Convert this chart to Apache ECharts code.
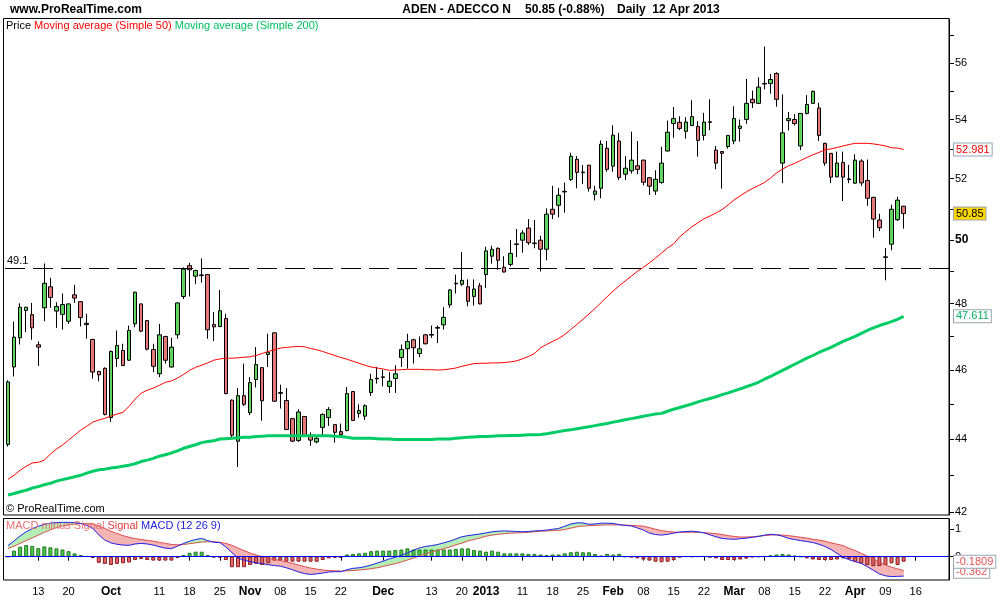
<!DOCTYPE html>
<html><head><meta charset="utf-8">
<script src="https://cdn.jsdelivr.net/npm/echarts@6.0.0/dist/echarts.min.js"></script>
<style>html,body{margin:0;padding:0;background:#fff}#c{width:1000px;height:600px}</style>
</head><body><div id="c"></div>
<script>
const FONT = 'Liberation Sans, Arial, sans-serif';

// trading days (month -> day numbers), last 7 are empty future days
const tradingDays = [
  ['2012-09', [6,7,10,11,12,13,14,17,18,19,20,21,24,25,26,27,28]],
  ['2012-10', [1,2,3,4,5,8,9,10,11,12,15,16,17,18,19,22,23,24,25,26,29,30,31]],
  ['2012-11', [1,2,5,6,7,8,9,12,13,14,15,16,19,20,21,22,23,26,27,28,29,30]],
  ['2012-12', [3,4,5,6,7,10,11,12,13,14,17,18,19,20,21,27,28]],
  ['2013-01', [3,4,7,8,9,10,11,14,15,16,17,18,21,22,23,24,25,28,29,30,31]],
  ['2013-02', [1,4,5,6,7,8,11,12,13,14,15,18,19,20,21,22,25,26,27,28]],
  ['2013-03', [1,4,5,6,7,8,11,12,13,14,15,18,19,20,21,22,25,26,27,28]],
  ['2013-04', [2,3,4,5,8,9,10,11,12,15,16,17,18,19,22,23]]
];

const tickDates = ['2012-09-13','2012-09-20','2012-10-01','2012-10-11','2012-10-18','2012-10-25','2012-11-01','2012-11-08','2012-11-15','2012-11-22','2012-12-03','2012-12-13','2012-12-20','2013-01-03','2013-01-11','2013-01-18','2013-01-25','2013-02-01','2013-02-08','2013-02-15','2013-02-22','2013-03-01','2013-03-08','2013-03-15','2013-03-22','2013-04-02','2013-04-09','2013-04-16'];
const tickTexts = ['13','20','Oct','11','18','25','Nov','08','15','22','Dec','13','20','2013','11','18','25','Feb','08','15','22','Mar','08','15','22','Apr','09','16'];
const boldTicks = ['Oct','Nov','Dec','2013','Feb','Mar','Apr'];

const priceLabels = [42,44,46,48,50,52,54,56];
const priceTicks = [42,43,44,45,46,47,48,49,50,51,52,53,54,55,56,57];
const macdTicks = [0,1];
const refLevel = 49.1;

const opens = [43.86,46.09,46.96,47.79,47.66,46.75,47.87,48.52,47.77,47.67,47.46,48.27,48.06,47.40,46.91,45.96,46.05,44.62,46.34,46.58,
46.29,47.38,47.99,47.48,46.61,45.89,47.00,46.09,47.05,48.22,49.18,48.85,48.89,48.90,47.36,47.30,47.54,45.12,43.95,45.25,
44.76,45.72,46.07,46.46,47.11,45.34,45.11,44.59,43.97,44.65,44.12,43.93,44.34,44.62,44.42,44.22,44.25,45.37,44.74,44.66,
45.34,45.76,45.78,45.52,45.75,46.37,46.63,46.90,46.49,47.05,47.04,47.25,47.35,47.96,48.61,48.60,48.52,48.22,48.55,48.90,
49.48,49.73,49.13,49.22,49.85,49.99,50.38,49.88,49.99,49.70,50.99,51.12,51.56,51.97,52.65,52.20,52.45,51.48,51.68,53.02,
52.42,53.27,52.15,52.26,52.43,52.62,52.03,51.59,51.87,52.93,53.87,53.91,53.60,53.80,53.77,53.46,53.91,52.96,52.91,53.08,
53.27,53.70,54.01,54.71,54.57,55.25,55.27,55.62,52.52,53.97,54.01,53.10,54.22,54.57,54.41,53.19,52.85,52.06,52.54,51.97,
51.85,52.59,51.94,51.38,50.64,49.44,49.86,50.65,51.09];
const highs = [45.70,47.45,48.01,47.89,48.02,46.85,49.25,48.80,48.04,48.31,48.00,48.58,48.08,47.69,46.93,45.97,46.08,46.58,47.18,46.78,
47.33,48.37,48.00,47.50,46.78,47.38,47.02,46.96,48.04,49.13,49.27,49.05,49.41,48.92,47.74,48.42,47.69,45.14,45.47,46.19,
45.79,46.68,46.08,47.08,47.12,45.57,45.47,44.60,44.86,44.66,44.20,44.07,44.74,44.92,44.43,44.45,45.50,45.39,45.00,45.00,
45.89,46.09,46.01,45.94,46.14,46.76,47.08,46.93,47.00,47.07,47.33,47.33,47.89,48.45,48.90,49.61,48.75,48.75,48.64,49.78,
49.81,49.76,49.48,49.99,50.35,50.31,50.67,50.64,50.13,51.02,51.76,51.69,51.87,52.87,52.76,52.46,52.46,51.76,53.29,53.27,
53.81,53.55,52.76,53.59,53.27,52.64,52.05,52.28,53.07,53.97,54.44,54.12,54.09,54.68,53.95,54.24,54.71,53.10,52.92,53.47,
54.47,54.01,55.43,55.02,55.49,56.59,55.61,55.67,54.88,54.27,54.20,54.23,54.86,55.02,54.59,53.21,52.86,52.91,52.91,52.46,
52.82,52.65,52.64,51.40,50.84,49.74,51.14,51.40,51.10];
const lows = [43.80,45.81,46.76,47.13,46.90,46.12,47.46,47.87,47.26,47.21,47.38,48.02,47.30,46.93,45.75,45.67,44.68,44.50,46.09,46.12,
46.27,47.28,47.13,46.58,45.94,45.79,46.19,46.07,46.93,48.14,48.22,48.60,48.65,46.93,46.86,47.28,45.29,44.07,43.23,44.95,
44.69,45.49,44.53,46.09,45.07,44.88,44.27,43.93,43.93,44.09,43.82,43.89,44.12,44.38,43.91,44.13,44.23,44.52,44.62,44.55,
45.24,45.60,45.52,45.33,45.33,46.09,46.04,46.19,46.38,46.76,46.96,46.80,47.21,47.87,48.31,48.55,47.92,47.94,47.98,48.48,
49.24,49.05,48.97,49.16,49.45,49.59,49.84,49.73,49.00,49.35,50.67,50.72,50.88,51.92,51.68,51.82,51.57,51.28,51.35,52.23,
52.23,51.95,51.95,52.17,52.15,51.78,51.46,51.46,51.83,52.91,53.38,53.64,53.35,53.78,52.74,53.29,53.64,52.31,51.67,53.01,
53.16,53.25,53.86,54.41,54.55,55.06,54.91,54.45,51.85,53.63,53.80,52.96,54.18,54.55,53.27,52.43,51.85,52.04,51.26,51.85,
51.83,51.76,51.10,50.07,50.28,48.72,49.67,50.61,50.36];
const closes = [45.65,46.98,47.89,47.89,47.26,46.68,48.63,48.19,47.91,47.97,47.99,48.17,47.57,47.36,45.94,45.86,44.71,46.55,46.73,46.13,
47.18,48.35,47.16,46.62,46.11,47.05,46.29,46.68,48.02,49.07,49.05,49.03,48.87,47.20,47.29,47.78,45.31,44.12,45.25,45.00,
45.63,46.16,45.10,46.53,45.09,45.32,44.28,43.95,44.78,44.10,43.98,44.03,44.71,44.85,44.20,44.14,45.31,44.54,44.82,44.96,
45.72,45.74,45.80,45.67,45.89,46.61,46.85,46.66,46.63,46.78,47.06,47.27,47.58,48.42,48.63,48.72,48.07,48.45,47.99,49.65,
49.70,49.35,48.98,49.57,49.87,50.22,49.91,49.90,49.70,50.83,50.83,51.45,51.58,52.75,52.21,52.22,51.68,51.59,53.16,52.31,
53.47,52.04,52.35,52.62,52.31,51.88,51.75,51.98,52.52,53.57,54.04,53.70,53.92,54.11,53.29,53.92,53.93,52.52,52.85,53.46,
54.04,53.78,54.57,54.59,55.14,55.27,55.41,54.71,53.55,54.04,53.87,54.22,54.53,54.99,53.46,52.52,52.05,52.52,52.05,51.99,
52.62,51.86,51.35,50.67,50.39,49.46,50.99,51.29,50.85];

const ma50 = [42.89,43.00,43.14,43.25,43.34,43.36,43.42,43.59,43.73,43.84,43.98,44.12,44.26,44.37,44.49,44.55,44.60,44.66,44.72,44.77,
44.94,45.15,45.32,45.41,45.47,45.55,45.64,45.68,45.76,45.87,45.99,46.08,46.14,46.21,46.29,46.33,46.35,46.35,46.36,46.38,
46.39,46.43,46.49,46.55,46.60,46.65,46.67,46.69,46.70,46.69,46.64,46.60,46.55,46.49,46.43,46.37,46.32,46.26,46.20,46.14,
46.09,46.06,46.03,45.99,46.00,46.01,46.02,46.02,46.02,46.01,46.01,46.00,46.01,46.03,46.06,46.11,46.15,46.19,46.20,46.20,
46.21,46.21,46.22,46.24,46.27,46.33,46.40,46.49,46.66,46.76,46.85,46.94,47.06,47.21,47.36,47.52,47.68,47.85,48.03,48.21,
48.39,48.55,48.70,48.85,49.00,49.13,49.27,49.42,49.58,49.74,49.87,50.10,50.26,50.42,50.55,50.68,50.77,50.87,50.98,51.13,
51.30,51.43,51.56,51.67,51.77,51.87,52.02,52.19,52.32,52.43,52.51,52.61,52.71,52.80,52.88,52.97,53.00,53.05,53.10,53.15,
53.19,53.19,53.19,53.17,53.14,53.10,53.04,53.03,52.981];
const ma200 = [42.46,42.50,42.55,42.59,42.65,42.69,42.74,42.78,42.84,42.88,42.92,42.96,43.00,43.06,43.11,43.15,43.17,43.20,43.22,43.25,
43.28,43.32,43.38,43.42,43.47,43.53,43.57,43.62,43.68,43.75,43.80,43.85,43.91,43.94,43.96,44.01,44.02,44.03,44.05,44.06,
44.06,44.08,44.09,44.10,44.10,44.10,44.10,44.10,44.10,44.10,44.10,44.10,44.10,44.10,44.09,44.08,44.06,44.03,44.03,44.03,
44.03,44.02,44.01,44.01,44.00,44.00,44.00,44.00,44.00,44.00,44.00,44.01,44.01,44.01,44.03,44.05,44.06,44.07,44.08,44.08,
44.09,44.10,44.10,44.11,44.11,44.12,44.13,44.13,44.14,44.16,44.19,44.22,44.25,44.27,44.30,44.33,44.36,44.39,44.42,44.45,
44.49,44.52,44.56,44.59,44.62,44.66,44.69,44.72,44.74,44.80,44.86,44.91,44.96,45.01,45.07,45.12,45.17,45.22,45.28,45.33,
45.39,45.45,45.51,45.57,45.64,45.73,45.81,45.90,45.99,46.08,46.17,46.26,46.35,46.43,46.52,46.60,46.67,46.76,46.85,46.93,
47.00,47.09,47.18,47.26,47.33,47.39,47.45,47.52,47.611];

const macdLine = [0.40,0.57,0.75,0.90,1.01,1.10,1.17,1.21,1.23,1.24,1.24,1.23,1.20,1.13,1.03,0.79,0.60,0.50,0.45,0.42,
0.41,0.46,0.48,0.46,0.42,0.36,0.31,0.29,0.38,0.48,0.56,0.62,0.66,0.58,0.52,0.51,0.35,0.15,-0.05,-0.12,
-0.18,-0.22,-0.25,-0.29,-0.32,-0.34,-0.40,-0.47,-0.55,-0.61,-0.64,-0.62,-0.59,-0.55,-0.54,-0.54,-0.47,-0.42,-0.40,-0.36,
-0.30,-0.23,-0.16,-0.08,-0.02,0.05,0.14,0.23,0.32,0.37,0.40,0.44,0.50,0.56,0.64,0.72,0.76,0.79,0.82,0.86,
0.90,0.92,0.93,0.92,0.91,0.90,0.91,0.93,0.94,0.96,0.99,1.02,1.10,1.18,1.22,1.22,1.17,1.18,1.21,1.21,
1.20,1.16,1.13,1.11,1.04,0.96,0.85,0.80,0.78,0.81,0.85,0.89,0.91,0.92,0.90,0.86,0.79,0.72,0.66,0.64,
0.63,0.65,0.67,0.70,0.73,0.78,0.81,0.79,0.74,0.66,0.62,0.58,0.55,0.51,0.45,0.37,0.26,0.12,-0.02,-0.11,
-0.18,-0.24,-0.36,-0.49,-0.62,-0.69,-0.72,-0.71,-0.70];
const signalLine = [0.30,0.38,0.48,0.58,0.68,0.78,0.88,0.97,1.05,1.11,1.15,1.18,1.20,1.20,1.18,1.11,1.02,0.92,0.84,0.76,
0.70,0.65,0.62,0.59,0.56,0.52,0.48,0.44,0.43,0.44,0.47,0.50,0.53,0.54,0.54,0.52,0.48,0.41,0.31,0.22,
0.13,0.06,0.00,-0.05,-0.10,-0.14,-0.19,-0.24,-0.30,-0.36,-0.41,-0.45,-0.48,-0.50,-0.51,-0.52,-0.51,-0.50,-0.48,-0.46,
-0.43,-0.40,-0.35,-0.30,-0.25,-0.19,-0.12,-0.05,0.03,0.10,0.17,0.23,0.29,0.35,0.43,0.49,0.57,0.62,0.68,0.74,
0.78,0.81,0.83,0.85,0.86,0.87,0.88,0.90,0.92,0.93,0.94,0.95,0.98,1.03,1.08,1.11,1.12,1.13,1.14,1.15,
1.15,1.15,1.14,1.13,1.12,1.10,1.05,0.99,0.94,0.91,0.89,0.88,0.88,0.88,0.88,0.87,0.85,0.83,0.80,0.76,
0.73,0.71,0.71,0.72,0.74,0.76,0.78,0.79,0.78,0.76,0.73,0.70,0.67,0.63,0.60,0.56,0.50,0.45,0.40,0.30,
0.22,0.12,0.02,-0.08,-0.20,-0.30,-0.38,-0.44,-0.50];
const macdHist = [0,0.22,0.36,0.42,0.39,0.31,0.37,0.34,0.30,0.26,0.20,0.12,0.06,0.02,-0.05,-0.22,-0.26,-0.30,-0.26,-0.24,
-0.21,-0.12,-0.08,-0.12,-0.14,-0.14,-0.14,-0.14,-0.05,0.06,0.14,0.18,0.18,0.06,-0.02,-0.02,-0.12,-0.38,-0.38,-0.38,
-0.30,-0.26,-0.30,-0.24,-0.14,-0.14,-0.18,-0.18,-0.18,-0.18,-0.18,-0.18,-0.12,-0.06,-0.04,-0.04,0.08,0.10,0.12,0.14,
0.20,0.22,0.22,0.22,0.24,0.26,0.30,0.26,0.26,0.26,0.26,0.26,0.26,0.26,0.28,0.30,0.30,0.24,0.22,0.18,
0.22,0.18,0.12,0.12,0.12,0.12,0.10,0.10,0.08,0.06,0.08,0.08,0.12,0.16,0.18,0.16,0.16,0.10,0.04,0.10,
0.08,0.10,0.00,-0.02,-0.06,-0.10,-0.14,-0.18,-0.20,-0.18,-0.12,-0.02,0.01,0.00,0.01,0.02,-0.02,-0.06,-0.12,-0.12,
-0.12,-0.10,-0.07,-0.01,0.00,0.02,0.05,0.08,0.10,0.08,0.04,0.00,-0.06,-0.10,-0.12,-0.12,-0.12,-0.10,-0.06,-0.08,
-0.18,-0.24,-0.30,-0.34,-0.34,-0.30,-0.24,-0.30,-0.1809];
const macdPanelValues = [-0.1809, -0.362];

const categories = [];
tradingDays.forEach(([m, ds]) => ds.forEach(d => categories.push(m + '-' + String(d).padStart(2, '0'))));
const isTick = (idx, val) => tickDates.indexOf(val) >= 0;
const fmtDate = (val) => {
  const k = tickDates.indexOf(val);
  if (k < 0) return '';
  const t = tickTexts[k];
  return boldTicks.indexOf(t) >= 0 ? '{b|' + t + '}' : t;
};

const chart = echarts.init(document.getElementById('c'), null, {renderer: 'canvas', width: 1000, height: 600});

const option = {
  animation: false,
  backgroundColor: '#fff',
  textStyle: {fontFamily: FONT},
  grid: [
    {left: 5, top: 19, width: 944, height: 496},
    {left: 5, top: 519, width: 944, height: 61}
  ],
  xAxis: [
    {type: 'category', gridIndex: 0, data: categories, boundaryGap: true,
     axisLine: {show: false}, axisTick: {show: false}, axisLabel: {show: false}, splitLine: {show: false}},
    {type: 'category', gridIndex: 1, data: categories, boundaryGap: true,
     axisLine: {show: false},
     axisTick: {show: true, interval: isTick, alignWithLabel: true, length: 4, lineStyle: {color: '#000'}},
     axisLabel: {interval: isTick, formatter: fmtDate, margin: 6, fontSize: 11, color: '#000', fontFamily: FONT,
       rich: {b: {fontWeight: 'bold', fontSize: 12, color: '#000', fontFamily: FONT}}},
     splitLine: {show: false}}
  ],
  yAxis: [
    {type: 'log', logBase: 10, gridIndex: 0, position: 'right', min: 41.92, max: 57.6,
     axisLine: {show: true, lineStyle: {color: '#000'}},
     axisTick: {show: true, length: 5, customValues: priceTicks, lineStyle: {color: '#000'}},
     axisLabel: {customValues: priceLabels, margin: 6, fontSize: 11, color: '#000', fontFamily: FONT,
       formatter: v => { const r = Math.round(v); return r === 50 ? '{b|50}' : String(r); },
       rich: {b: {fontWeight: 'bold', fontSize: 12, color: '#000', fontFamily: FONT}}},
     splitLine: {show: false}},
    {type: 'value', gridIndex: 1, position: 'right', min: -0.841, max: 1.361,
     axisLine: {show: true, lineStyle: {color: '#000'}},
     axisTick: {show: true, length: 5, customValues: macdTicks, lineStyle: {color: '#000'}},
     axisLabel: {customValues: macdTicks, margin: 6, fontSize: 11, color: '#000', fontFamily: FONT},
     splitLine: {show: false}}
  ],
  series: [
    {type: 'candlestick', name: 'Price', xAxisIndex: 0, yAxisIndex: 0, barWidth: 4, z: 2,
     data: opens.map((o, i) => [o, closes[i], lows[i], highs[i]]),
     itemStyle: {color: '#5ed65e', color0: '#e87878', borderColor: '#000', borderColor0: '#000', borderColorDoji: '#000', borderWidth: 1},
     markLine: {silent: true, symbol: ['none', 'none'], animation: false,
       data: [{yAxis: refLevel}],
       lineStyle: {color: '#000', width: 1, type: [20, 8]},
       label: {position: 'insideStartTop', formatter: String(refLevel), color: '#000', fontSize: 11, fontFamily: FONT, distance: 2}}},
    {type: 'line', name: 'MA50', xAxisIndex: 0, yAxisIndex: 0, data: ma50, symbol: 'none', silent: true, z: 3,
     lineStyle: {color: '#ff0000', width: 1}},
    {type: 'line', name: 'MA200', xAxisIndex: 0, yAxisIndex: 0, data: ma200, symbol: 'none', silent: true, z: 3,
     lineStyle: {color: '#00cc66', width: 3}},
    {type: 'custom', name: 'fill', xAxisIndex: 1, yAxisIndex: 1, silent: true, z: 1,
     data: macdLine.slice(0, -1).map((m, i) => [i, m, signalLine[i], macdLine[i + 1], signalLine[i + 1]]),
     encode: {x: 0, y: [1, 2]},
     renderItem: (params, api) => {
       const i = api.value(0);
       const a = api.value(1), b = api.value(2), c = api.value(3), d = api.value(4);
       const up = (a + c) >= (b + d);
       const col = up ? '#b4eeb4' : '#f4b4b4';
       return {type: 'polygon', shape: {points: [api.coord([i, a]), api.coord([i + 1, c]), api.coord([i + 1, d]), api.coord([i, b])]},
               style: {fill: col, stroke: col, lineWidth: 0.5}};
     }},
    {type: 'bar', name: 'MACD minus Signal', xAxisIndex: 1, yAxisIndex: 1, barWidth: 4, z: 2,
     data: macdHist.map(v => ({value: v, itemStyle: {color: v >= 0 ? '#4cc84c' : '#e46a6a', borderColor: v >= 0 ? '#1f7a1f' : '#8b1a1a', borderWidth: 1}})),
     markLine: {silent: true, symbol: ['none', 'none'], animation: false, data: [{yAxis: 0}],
       lineStyle: {color: '#0000ff', width: 1, type: 'solid'}, label: {show: false}}},
    {type: 'line', name: 'Signal', xAxisIndex: 1, yAxisIndex: 1, data: signalLine, symbol: 'none', silent: true, z: 3,
     lineStyle: {color: '#e05050', width: 1}},
    {type: 'line', name: 'MACD', xAxisIndex: 1, yAxisIndex: 1, data: macdLine, symbol: 'none', silent: true, z: 4,
     lineStyle: {color: '#2222ee', width: 1}}
  ]
};
chart.setOption(option);

const last = closes.length - 1;
const boxStyle = (text, fill, bg) => ({text, fill, backgroundColor: bg, borderColor: '#9aa6b2', borderWidth: 1,
  padding: [1, 2, 0, 2], fontSize: 11, fontFamily: FONT, verticalAlign: 'middle', align: 'left'});
const py = v => chart.convertToPixel({yAxisIndex: 0}, v);
const my = v => chart.convertToPixel({yAxisIndex: 1}, v);
const m1 = my(macdPanelValues[0]);
const m2 = Math.max(my(macdPanelValues[1]), m1 + 10);

const graphics = [
  {type: 'rect', shape: {x: 3.5, y: 18.5, width: 945.5, height: 496.5}, style: {fill: null, stroke: '#000', lineWidth: 1}, z: 10, silent: true},
  {type: 'rect', shape: {x: 3.5, y: 518.5, width: 945.5, height: 61.5}, style: {fill: null, stroke: '#000', lineWidth: 1}, z: 10, silent: true},
  {type: 'text', x: 10, y: 10, style: {text: 'www.ProRealTime.com', fontSize: 12, fontWeight: 'bold', fontFamily: FONT, fill: '#000', verticalAlign: 'middle'}},
  {type: 'text', x: 511, y: 10, style: {text: 'ADEN - ADECCO N', fontSize: 12, fontWeight: 'bold', fontFamily: FONT, fill: '#000', verticalAlign: 'middle', align: 'right'}},
  {type: 'text', x: 525, y: 10, style: {text: closes[last].toFixed(2) + ' (-0.88%)', fontSize: 12, fontWeight: 'bold', fontFamily: FONT, fill: '#000', verticalAlign: 'middle'}},
  {type: 'text', x: 617, y: 10, style: {text: 'Daily  12 Apr 2013', fontSize: 12, fontWeight: 'bold', fontFamily: FONT, fill: '#000', verticalAlign: 'middle'}},
  {type: 'text', x: 6, y: 26, style: {text: '{k|Price} {r|Moving average (Simple 50)} {g|Moving average (Simple 200)}', verticalAlign: 'middle',
    fontSize: 11, fontFamily: FONT,
    rich: {k: {fill: '#000', fontSize: 11, fontFamily: FONT}, r: {fill: '#ff0000', fontSize: 11, fontFamily: FONT}, g: {fill: '#00c060', fontSize: 11, fontFamily: FONT}}}},
  {type: 'text', x: 6, y: 509, style: {text: '\u00a9 ProRealTime.com', fontSize: 11, fontFamily: FONT, fill: '#000', verticalAlign: 'middle'}},
  {type: 'text', x: 6, y: 526, style: {text: '{a|MACD minus Signal} {s|Signal} {m|MACD (12 26 9)}', verticalAlign: 'middle',
    fontSize: 11, fontFamily: FONT,
    rich: {a: {fill: '#e87070', fontSize: 11, fontFamily: FONT}, s: {fill: '#e04040', fontSize: 11, fontFamily: FONT}, m: {fill: '#2020dd', fontSize: 11, fontFamily: FONT}}}, z: 5},
  {type: 'text', x: 954, y: py(ma50[last]), style: boxStyle(ma50[last].toFixed(3), '#ff0000', '#fff'), z: 20},
  {type: 'text', x: 954, y: py(closes[last]), style: boxStyle(closes[last].toFixed(2), '#000', '#ffd700'), z: 20},
  {type: 'text', x: 954, y: py(ma200[last]), style: boxStyle(ma200[last].toFixed(3), '#00b060', '#fff'), z: 20},
  {type: 'text', x: 954, y: m2, style: boxStyle(String(macdPanelValues[1]), '#e05050', '#fff'), z: 20},
  {type: 'text', x: 954, y: m1, style: boxStyle(String(macdPanelValues[0]), '#e05050', '#fff'), z: 21}
];
chart.setOption({graphic: graphics});
</script>
</body></html>
